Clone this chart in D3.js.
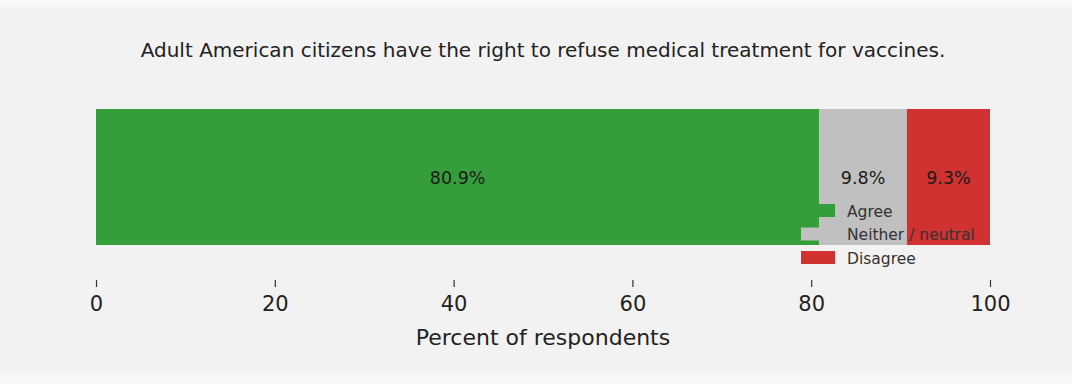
<!DOCTYPE html>
<html><head><meta charset="utf-8">
<script src="https://cdn.jsdelivr.net/npm/d3@7"></script>
<style>body{margin:0;background:#f2f2f2;}svg{display:block;font-family:"DejaVu Sans",sans-serif;}</style>
</head><body><svg id="c" width="1072" height="384"></svg>
<script>
const title = "Adult American citizens have the right to refuse medical treatment for vaccines.";
const categories = ["Agree", "Neither / neutral", "Disagree"];
const values = [80.9, 9.8, 9.3];
const colors = ["#359e3a", "#c0c0c0", "#d03232"];
const ticks = [0, 20, 40, 60, 80, 100];
const axisLabel = "Percent of respondents";

const svg = d3.select("#c");
svg.append("rect").attr("width",1072).attr("height",384).attr("fill","#f7f7f7");
svg.append("rect").attr("x",0).attr("y",7).attr("width",1072).attr("height",366).attr("fill","#f2f2f2");

const x = d3.scaleLinear().domain([0,100]).range([96,990]);
const y = d3.scaleBand().domain(["q"]).range([109,245]).padding(0);

svg.append("text").attr("x",543).attr("y",57).attr("text-anchor","middle")
  .attr("font-size",20).attr("fill","#222").text(title);

let cum = 0;
const segs = values.map((v,i)=>{const s={cat:categories[i],v,start:cum,color:colors[i]};cum+=v;return s;});

svg.selectAll("rect.bar").data(segs).join("rect").attr("class","bar")
  .attr("x",d=>x(d.start)).attr("y",y("q")).attr("width",d=>x(d.start+d.v)-x(d.start))
  .attr("height",y.bandwidth()).attr("fill",d=>d.color);

svg.selectAll("text.lab").data(segs).join("text").attr("class","lab")
  .attr("x",d=>x(d.start+d.v/2)).attr("y",y("q")+y.bandwidth()/2+7)
  .attr("text-anchor","middle").attr("font-size",17.5).attr("fill","#1a1a1a")
  .text(d=>d.v.toFixed(1)+"%");

// legend
const lg = svg.append("g").attr("transform","translate(801,204)");
categories.forEach((c,i)=>{
  const g = lg.append("g").attr("transform",`translate(0,${i*23.5})`);
  g.append("rect").attr("x",0).attr("y",0).attr("width",34).attr("height",13).attr("fill",colors[i]);
  g.append("text").attr("x",46).attr("y",12.5).attr("font-size",15.5).attr("fill","#333").text(c);
});

const ax = d3.axisBottom(x).tickValues(ticks).tickSize(7).tickPadding(9).tickFormat(d3.format("d"));
const axg = svg.append("g").attr("transform","translate(0,280)").call(ax);
axg.select(".domain").remove();
axg.selectAll(".tick line").attr("stroke","#333").attr("stroke-width",1.2);
axg.selectAll(".tick text").attr("font-size",21).attr("fill","#222").attr("font-family","DejaVu Sans");

svg.append("text").attr("x",543).attr("y",345).attr("text-anchor","middle")
  .attr("font-size",22).attr("fill","#222").text(axisLabel);
</script></body></html>
